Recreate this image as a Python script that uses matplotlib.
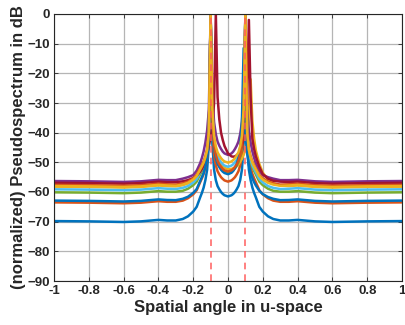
import matplotlib
matplotlib.use("Agg")
import matplotlib.pyplot as plt
from matplotlib.ticker import FixedLocator

plt.rcParams['font.family'] = ['Liberation Sans', 'DejaVu Sans']
plt.rcParams['font.weight'] = 'bold'

# Shared u-grid (spatial angle in u-space)
u = [-1, -0.8, -0.6, -0.5, -0.4, -0.35, -0.3, -0.26, -0.23, -0.2, -0.18, -0.16, -0.15,
     -0.14, -0.13, -0.12, -0.11, -0.1, -0.09, -0.08, -0.07, -0.06, -0.05, -0.04, -0.03, -0.02, 0,
     0.02, 0.03, 0.04, 0.05, 0.06, 0.07, 0.08, 0.09, 0.1, 0.11, 0.12, 0.13, 0.14, 0.15, 0.16, 0.18,
     0.2, 0.23, 0.26, 0.3, 0.35, 0.4, 0.5, 0.6, 0.8, 1]

# Pseudospectra (dB), one per run
p_blue1 = [-69.8, -69.9, -70.1, -69.9, -69.4, -69.6, -69.6, -69.1, -68.2, -66.6, -65, -61.8, -60.3,
           -58.5, -56, -52.5, -44, 0, -43.5, -52.5, -56, -58, -59.1, -60, -60.65, -61.1, -61.5,
           -61.1, -60.65, -60, -59.1, -58, -56, -52.5, -43.5, 0, -44, -52.5, -56, -58.5, -60.3, -61.8, -65,
           -66.6, -68.2, -69.1, -69.6, -69.6, -69.4, -69.9, -70.1, -69.9, -69.8]
p_orange1 = [-63.5, -63.6, -63.8, -63.6, -63.1, -63.3, -63.3, -62.9, -62.1, -60.8, -59.4, -56.7, -55.4,
             -53.9, -51.8, -48.8, -41.5, 0, -38.5, -47.5, -51, -53, -54.1, -55, -55.6, -56.1, -56.5,
             -56.1, -55.6, -55, -54.1, -53, -51, -47.5, -38.5, 0, -41.5, -48.8, -51.8, -53.9, -55.4, -56.7, -59.4,
             -60.8, -62.1, -62.9, -63.3, -63.3, -63.1, -63.6, -63.8, -63.6, -63.5]
p_yellow1 = [-58.2, -58.3, -58.5, -58.3, -57.8, -58, -58.1, -57.7, -57.1, -56, -54.8, -52.6, -51.5,
             -50.3, -48.5, -46.1, -40.2, 0, -34.3, -43.3, -46.8, -48.8, -49.9, -50.8, -51.4, -51.9, -52.3,
             -52.2, -52.0, -51.8, -51.35, -50.8, -49.8, -48.8, -47.5, -45.5, -42, -36, -22, -36, -42, -46, -50.5,
             -53.5, -55.8, -57, -57.8, -58, -57.8, -58.3, -58.5, -58.3, -58.2]
p_purple = [-56.3, -56.4, -56.6, -56.4, -55.9, -56, -56, -55.5, -55, -54.3, -52.8, -50.3, -48.5,
            -46.3, -43.3, -39.3, -32.3, 0, -27.5, -36.5, -40.5, -43, -44.4, -45.5, -46.4, -47, -47.5,
            -47, -46.4, -45.5, -44.4, -43, -40.5, -36.5, -27.5, 0, -32.3, -39.3, -43.3, -46.3, -48.5, -50.3, -52.8,
            -54.3, -55, -55.5, -56, -56, -55.9, -56.4, -56.6, -56.4, -56.3]
p_green = [-60.1, -60.2, -60.4, -60.2, -59.7, -59.9, -59.9, -59.6, -58.9, -57.7, -56.5, -54.1, -52.9,
           -51.6, -49.7, -47.1, -40.7, -8, -35.5, -44.5, -48, -50, -51.1, -52, -52.65, -53.1, -53.5,
           -53.1, -52.65, -52, -51.1, -50, -48, -44.5, -35.5, 0, -40.7, -47.1, -49.7, -51.6, -52.9, -54.1, -56.5,
           -57.7, -58.9, -59.6, -59.9, -59.9, -59.7, -60.2, -60.4, -60.2, -60.1]
p_lightblue = [-59.1, -59.2, -59.4, -59.2, -58.7, -58.9, -59, -58.6, -58, -56.8, -55.6, -53.3, -52.2,
               -51, -49.2, -46.6, -40.5, 0, -33.5, -42.5, -46, -48, -49.1, -50, -50.65, -51.1, -51.5,
               -51.1, -50.65, -50, -49.1, -48, -46, -42.5, -33.5, 0, -40.5, -46.6, -49.2, -51, -52.2, -53.3, -55.6,
               -56.8, -58, -58.6, -59, -58.9, -58.7, -59.2, -59.4, -59.2, -59.1]
p_darkred = [-56.9, -57, -57.2, -57, -56.5, -56.7, -56.7, -56.4, -56, -55.3, -54.5, -53.2, -52.2,
             -51, -49.5, -47.5, -44.5, -41.5, -37, -30, 0, -28, -35.5, -40, -42.5, -44.5, -47,
             -48, -48.1, -48, -47.6, -47, -46, -44.5, -42, -38, -30, -2, -28, -42, -45.5, -48, -51.5,
             -54, -55.5, -56.2, -56.5, -56.6, -56.5, -57, -57.2, -57, -56.9]
p_blue2 = [-62.9, -63, -63.2, -63, -62.5, -62.7, -62.75, -62.3, -61.6, -60.3, -59, -56.3, -55,
           -53.6, -51.6, -48.7, -41.7, 0, -36, -45, -48.5, -50.5, -51.6, -52.5, -53.15, -53.6, -54,
           -53.5, -52.9, -52, -50.6, -48.5, -45, -36, -11.5, -40, -47, -51, -53.5, -55.3, -56.7, -57.8, -59.6,
           -60.7, -61.7, -62.3, -62.75, -62.7, -62.5, -63, -63.2, -63, -62.9]
p_orange2 = [-57.6, -57.7, -57.9, -57.7, -57.2, -57.4, -57.5, -57.1, -56.5, -55.4, -54.2, -52, -50.9,
             -49.7, -47.9, -45.5, -39.6, 0, -35, -44, -47.5, -49.5, -50.7, -51.5, -52.25, -52.7, -53.1,
             -52.7, -52.25, -51.5, -50.7, -49.5, -47.5, -44, -35, 0, -39.6, -45.5, -47.9, -49.7, -50.9, -52, -54.2,
             -55.4, -56.5, -57.1, -57.5, -57.4, -57.2, -57.7, -57.9, -57.7, -57.6]
p_yellow2 = [-58, -58.1, -58.3, -58.1, -57.6, -57.8, -57.9, -57.5, -56.9, -55.8, -54.6, -52.4, -51.3,
             -50.1, -48.3, -45.9, -40, 0, -32, -41, -44.6, -46.6, -47.7, -48.6, -49.25, -49.7, -50.1,
             -49.7, -49.25, -48.6, -47.7, -46.6, -44.6, -41, -32, 0, -40, -45.9, -48.3, -50.1, -51.3, -52.4, -54.6,
             -55.8, -56.9, -57.5, -57.9, -57.8, -57.6, -58.1, -58.3, -58.1, -58]

spectra = [p_blue1, p_orange1, p_yellow1, p_purple, p_green,
           p_lightblue, p_darkred, p_blue2, p_orange2, p_yellow2]
colors = ['#0072BD', '#D95319', '#EDB120', '#7E2F8E', '#77AC30',
          '#4DBEEE', '#A2142F', '#0072BD', '#D95319', '#EDB120']

true_angles = [-0.1, 0.1]
xticks = [-1, -0.8, -0.6, -0.4, -0.2, 0, 0.2, 0.4, 0.6, 0.8, 1]
xticklabels = ['-1', '-0.8', '-0.6', '-0.4', '-0.2', '0', '0.2', '0.4', '0.6', '0.8', '1']
yticks = [0, -10, -20, -30, -40, -50, -60, -70, -80, -90]

fig = plt.figure(figsize=(4.05, 3.25), dpi=100)
ax = fig.add_axes([54/405, 1-281/325, 348/405, 267/325])

for p, c in zip(spectra, colors):
    ax.plot(u, p, color=c, lw=1.8, solid_joinstyle='round')

for a in true_angles:
    ax.axvline(a, color='#FF5A5A', lw=1.2, ls=(0, (4, 3)), alpha=0.9)

ax.set_xlim(-1, 1)
ax.set_ylim(-90, 0)
ax.xaxis.set_major_locator(FixedLocator(xticks))
ax.set_xticklabels(xticklabels)
ax.yaxis.set_major_locator(FixedLocator(yticks))
ax.grid(True, color='#b5b5b5', lw=0.9)
ax.set_axisbelow(True)
ax.tick_params(direction='in', length=3, width=0.6, labelsize=9.5, pad=3,
               top=True, right=True, colors='#262626')
for lbl in ax.get_xticklabels() + ax.get_yticklabels():
    lbl.set_fontweight('bold')
for s in ax.spines.values():
    s.set_color('#262626')
    s.set_linewidth(0.8)
ax.set_xlabel('Spatial angle in u-space', fontsize=12, fontweight='bold', labelpad=2, color='#262626')
ax.set_ylabel('(normalized) Pseudospectrum in dB', fontsize=12, fontweight='bold', labelpad=1, color='#262626')

fig.savefig('out.png', dpi=100)
